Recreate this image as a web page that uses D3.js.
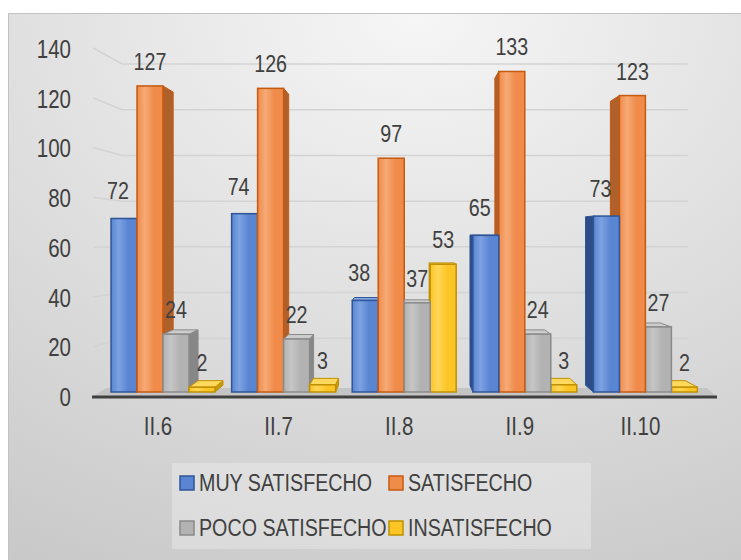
<!DOCTYPE html>
<html>
<head>
<meta charset="utf-8">
<script src="https://cdn.jsdelivr.net/npm/d3@7"></script>
<style>
  body { margin: 0; background: #fff; }
  text { font-family: "Liberation Sans", Arial, sans-serif; fill: #404040; }
</style>
</head>
<body>
<script>
var categories = ["II.6", "II.7", "II.8", "II.9", "II.10"];
var seriesNames = ["MUY SATISFECHO", "SATISFECHO", "POCO SATISFECHO", "INSATISFECHO"];
var muySatisfecho = [72, 74, 38, 65, 73];
var satisfecho = [127, 126, 97, 133, 123];
var pocoSatisfecho = [24, 22, 37, 24, 27];
var insatisfecho = [2, 3, 53, 3, 2];
var yTicks = [0, 20, 40, 60, 80, 100, 120, 140];

var seriesValues = [muySatisfecho, satisfecho, pocoSatisfecho, insatisfecho];

// colours per series: front, light band, outline, side, top
var styles = [
	{ front: "#5a85d2", light: "#7da2e2", stroke: "#2f5597", side: "#2c4d8a", top: "#8aabe6" },
	{ front: "#f08b4a", light: "#f6aa76", stroke: "#c55a11", side: "#b0602a", top: "#f8b98a" },
	{ front: "#b2b2b2", light: "#c6c6c6", stroke: "#8a8a8a", side: "#878787", top: "#cdcdcd" },
	{ front: "#fbc625", light: "#ffd658", stroke: "#bf9000", side: "#c79a0c", top: "#ffd95e" }
];

var W = 741, H = 560;
var NARROW = 0.82; // the chart's font is condensed
var svg = d3.select("body").append("svg")
	.attr("width", W)
	.attr("height", H);

var defs = svg.append("defs");
var bg = defs.append("radialGradient").attr("id", "bg")
	.attr("cx", 0.55).attr("cy", 0).attr("r", 1.1);
bg.append("stop").attr("offset", 0).attr("stop-color", "#f6f6f6");
bg.append("stop").attr("offset", 1).attr("stop-color", "#c9c9c9");

styles.forEach(function(s, i) {
	var g = defs.append("linearGradient").attr("id", "front" + i)
		.attr("x1", 0).attr("x2", 1).attr("y1", 0).attr("y2", 0);
	g.append("stop").attr("offset", 0).attr("stop-color", s.front);
	g.append("stop").attr("offset", 0.3).attr("stop-color", s.light);
	g.append("stop").attr("offset", 0.65).attr("stop-color", s.front);
	g.append("stop").attr("offset", 1).attr("stop-color", s.front);
});

svg.append("rect")
	.attr("x", 8.5).attr("y", 13.5)
	.attr("width", W).attr("height", H)
	.attr("fill", "url(#bg)")
	.attr("stroke", "#c2c2c2");

// scales
var x0 = d3.scaleBand().domain(categories).range([102.7, 705.7]);
var x1 = d3.scaleBand().domain(seriesNames).range([0, x0.bandwidth()]).paddingOuter(0.32);
var yBar = d3.scaleLinear().domain([0, 140]).range([392, 392 - 140 * 2.41]);
var yLabel = d3.scaleLinear().domain([0, 140]).range([397.5, 49]);
var yWall = d3.scaleLinear().domain([0, 140]).range([384, 64]);

// perspective
var V = [405, 232], depth = 0.042;
function back(x, y) { return [x + depth * (V[0] - x), y + depth * (V[1] - y)]; }

function place(x, y) { return "translate(" + x + "," + y + ") scale(" + NARROW + ",1)"; }

// gridlines on the walls
svg.append("g").selectAll("path")
	.data(yTicks.filter(function(d) { return d > 0; }))
	.enter().append("path")
	.attr("d", function(d) {
		return "M93," + (yLabel(d) - 1) + "L122," + yWall(d) + "L688," + yWall(d);
	})
	.attr("fill", "none")
	.attr("stroke", "#d3d3d3")
	.attr("stroke-width", 1.5);

// floor
svg.append("path")
	.attr("d", "M92,397L717,397L707,388L106,388Z")
	.attr("fill", "#c4c4c4");

// bars
var bars = [];
categories.forEach(function(c, ci) {
	seriesNames.forEach(function(s, si) {
		var xa = x0(c) + x1(s);
		bars.push({ cat: c, si: si, value: seriesValues[si][ci], x0: xa, x1: xa + x1.bandwidth() });
	});
});
bars.sort(function(a, b) {
	return Math.abs((b.x0 + b.x1) / 2 - V[0]) - Math.abs((a.x0 + a.x1) / 2 - V[0]);
});

function poly(pts) { return "M" + pts.map(function(p) { return p.join(","); }).join("L") + "Z"; }

var barG = svg.append("g");
bars.forEach(function(d) {
	var st = styles[d.si];
	var yt = yBar(d.value), yb = yBar(0);
	var g = barG.append("g");
	var bt0 = back(d.x0, yt), bt1 = back(d.x1, yt);
	var bb0 = back(d.x0, yb), bb1 = back(d.x1, yb);
	if (d.x1 < V[0]) {
		g.append("path").attr("d", poly([[d.x1, yt], bt1, bb1, [d.x1, yb]]))
			.attr("fill", st.side).attr("stroke", st.stroke).attr("stroke-width", 1);
	} else if (d.x0 > V[0]) {
		g.append("path").attr("d", poly([[d.x0, yt], bt0, bb0, [d.x0, yb]]))
			.attr("fill", st.side).attr("stroke", st.stroke).attr("stroke-width", 1);
	}
	if (yt > V[1]) {
		g.append("path").attr("d", poly([[d.x0, yt], [d.x1, yt], bt1, bt0]))
			.attr("fill", st.top).attr("stroke", st.stroke).attr("stroke-width", 1);
	}
	g.append("rect")
		.attr("x", d.x0).attr("y", yt)
		.attr("width", d.x1 - d.x0).attr("height", yb - yt)
		.attr("fill", "url(#front" + d.si + ")")
		.attr("stroke", st.stroke)
		.attr("stroke-width", 1.5);
});

// axis line
svg.append("line")
	.attr("x1", 92).attr("x2", 717).attr("y1", 397).attr("y2", 397)
	.attr("stroke", "#404040").attr("stroke-width", 3);

// y tick labels
svg.append("g").selectAll("text")
	.data(yTicks)
	.enter().append("text")
	.attr("transform", function(d) { return place(71, yLabel(d)); })
	.attr("dy", "0.35em")
	.attr("text-anchor", "end")
	.attr("font-size", 25)
	.text(function(d) { return d; });

// category labels
svg.append("g").selectAll("text")
	.data(categories)
	.enter().append("text")
	.attr("transform", function(d) { return place(x0(d) + x0.bandwidth() / 2 - 5, 426); })
	.attr("dy", "0.35em")
	.attr("text-anchor", "middle")
	.attr("font-size", 25)
	.text(function(d) { return d; });

// data labels
svg.append("g").selectAll("text")
	.data(bars)
	.enter().append("text")
	.attr("transform", function(d) {
		return place((d.x0 + d.x1) / 2 + (d.si === 0 ? -6 : 0), yBar(d.value) - (d.si === 0 ? 19 : 16));
	})
	.attr("text-anchor", "middle")
	.attr("font-size", 24)
	.text(function(d) { return d.value; });

// legend
var legend = svg.append("g");
legend.append("rect")
	.attr("x", 172).attr("y", 463)
	.attr("width", 419).attr("height", 86)
	.attr("fill", "#ffffff").attr("fill-opacity", 0.28);

var legendPos = [[180, 483], [389, 483], [180, 528], [389, 528]];
var item = legend.selectAll(".item")
	.data(seriesNames)
	.enter().append("g")
	.attr("class", "item")
	.attr("transform", function(d, i) { return "translate(" + legendPos[i][0] + "," + legendPos[i][1] + ")"; });
item.append("rect")
	.attr("x", 0).attr("y", -7)
	.attr("width", 14).attr("height", 14)
	.attr("fill", function(d, i) { return styles[i].front; })
	.attr("stroke", function(d, i) { return styles[i].stroke; })
	.attr("stroke-width", 1.5);
item.append("text")
	.attr("transform", place(19, 0))
	.attr("dy", "0.35em")
	.attr("font-size", 24)
	.text(function(d) { return d; });
</script>
</body>
</html>
